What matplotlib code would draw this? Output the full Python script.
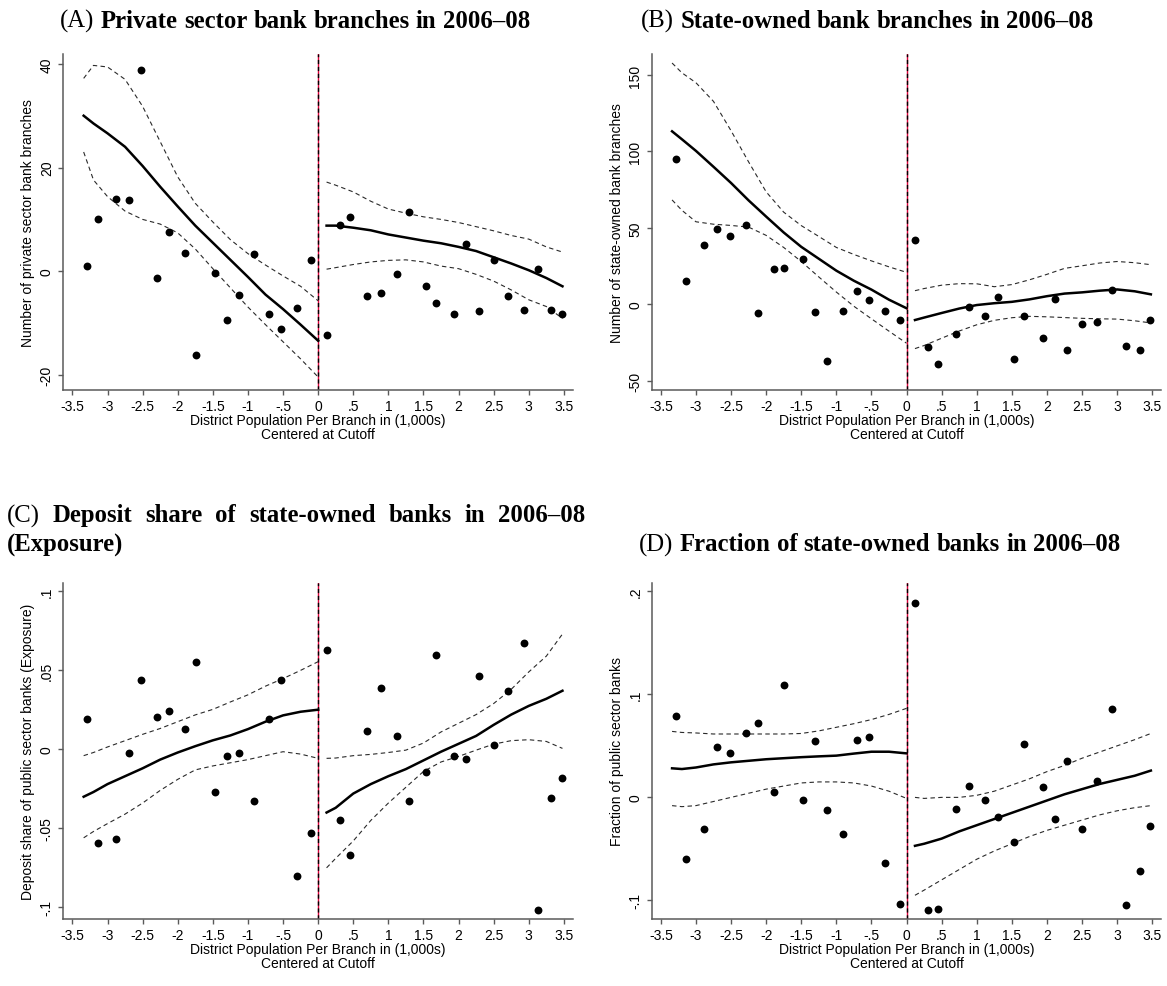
import matplotlib
matplotlib.use("Agg")
import matplotlib.pyplot as plt

W, H, DPI = 1167, 987, 100

# bin centres of the scatter points (left / right of cutoff)
x_left = [-3.29, -3.14, -2.88, -2.70, -2.52, -2.29, -2.12, -1.89, -1.74,
          -1.47, -1.30, -1.13, -0.91, -0.70, -0.53, -0.30, -0.10]
x_right = [0.12, 0.31, 0.45, 0.70, 0.89, 1.12, 1.30, 1.53, 1.68, 1.94,
           2.11, 2.29, 2.50, 2.71, 2.93, 3.13, 3.32, 3.47]

# grids on which the local fits are drawn
grid_left = [-3.34, -3.2, -3.0, -2.75, -2.5, -2.25, -2.0, -1.75, -1.5,
             -1.25, -1.0, -0.75, -0.5, -0.25, 0.0]
grid_right = [0.12, 0.25, 0.5, 0.75, 1.0, 1.25, 1.5, 1.75, 2.0, 2.25,
              2.5, 2.75, 3.0, 3.25, 3.48]

# (A) private sector bank branches
a_pts_l = [1.0, 10.1, 13.9, 13.7, 38.8, -1.35, 7.6, 3.6, -16.1, -0.26,
           -9.4, -4.5, 3.3, -8.3, -11.1, -7.1, 2.2]
a_pts_r = [-12.3, 8.9, 10.4, -4.8, -4.2, -0.6, 11.4, -2.9, -6.1, -8.3,
           5.2, -7.7, 2.2, -4.7, -7.4, 0.4, -7.4, -8.2]
a_fit_l = [30.0, 28.5, 26.6, 24.0, 20.3, 16.3, 12.5, 8.8, 5.5, 2.2, -1.1,
           -4.5, -7.3, -10.3, -13.4]
a_hi_l = [37.2, 39.7, 39.4, 37.0, 31.8, 25.0, 18.2, 13.1, 9.5, 6.1, 3.4,
          1.2, -0.9, -2.9, -5.7]
a_lo_l = [23.0, 17.6, 14.4, 11.6, 10.0, 9.1, 7.4, 4.3, 0.5, -3.2, -6.9,
          -10.3, -13.6, -16.9, -20.4]
a_fit_r = [8.8, 8.8, 8.4, 7.9, 7.1, 6.5, 5.9, 5.4, 4.7, 3.9, 2.7, 1.5,
           0.2, -1.3, -2.9]
a_hi_r = [17.2, 16.6, 15.3, 13.5, 12.0, 11.2, 10.5, 10.0, 9.4, 8.6, 7.8,
          6.9, 6.2, 4.7, 3.7]
a_lo_r = [0.4, 0.7, 1.3, 1.8, 2.1, 2.2, 1.8, 1.0, 0.5, -0.6, -1.9, -3.6,
          -5.5, -6.8, -9.1]

# (B) state-owned bank branches
b_pts_l = [94.9, 15.0, 38.6, 49.3, 44.5, 51.9, -5.9, 23.1, 23.5, 29.6,
           -5.3, -37.1, -4.6, 8.5, 3.0, -4.2, -10.3]
b_pts_r = [41.9, -28.0, -39.0, -19.6, -1.8, -7.4, 5.0, -36.0, -7.4, -22.0,
           3.7, -30.0, -12.9, -11.4, 9.6, -27.0, -30.0, -10.3]
b_fit_l = [113.2, 108.0, 100.4, 90.0, 79.4, 68.0, 57.4, 47.0, 37.6, 29.8,
           22.0, 15.4, 9.6, 3.0, -2.6]
b_hi_l = [157.9, 151.5, 145.0, 132.8, 113.6, 93.2, 73.6, 60.3, 51.5, 44.4,
          37.2, 32.6, 28.4, 24.5, 20.9]
b_lo_l = [68.3, 61.5, 54.0, 52.4, 51.6, 50.5, 45.1, 37.2, 28.0, 17.9, 8.0,
          -1.3, -9.5, -17.6, -25.5]
b_fit_r = [-10.3, -8.7, -5.7, -2.8, -0.5, 0.7, 1.6, 3.2, 5.3, 7.0, 7.8,
           8.9, 9.7, 8.5, 6.5]
b_hi_r = [8.9, 10.3, 12.5, 13.5, 13.4, 11.5, 12.9, 16.0, 19.6, 23.5, 25.2,
          27.0, 28.0, 27.2, 25.9]
b_lo_r = [-29.0, -27.0, -22.2, -17.5, -13.4, -10.5, -8.8, -7.9, -8.2,
          -8.7, -9.2, -9.5, -9.7, -10.8, -12.2]

# (C) deposit share of state-owned banks
c_pts_l = [0.019, -0.059, -0.057, -0.0023, 0.0437, 0.0204, 0.0242, 0.0126,
           0.0551, -0.027, -0.0044, -0.0023, -0.033, 0.019, 0.0438, -0.080,
           -0.053]
c_pts_r = [0.063, -0.045, -0.067, 0.0114, 0.039, 0.0086, -0.033, -0.0146,
           0.0599, -0.004, -0.0063, 0.0466, 0.0029, 0.0367, 0.0673, -0.102,
           -0.031, -0.0182]
c_fit_l = [-0.030, -0.027, -0.022, -0.017, -0.012, -0.0065, -0.002, 0.002,
           0.0057, 0.0088, 0.0128, 0.0175, 0.0215, 0.0238, 0.0251]
c_hi_l = [-0.004, -0.002, 0.0015, 0.0055, 0.0095, 0.0132, 0.0175, 0.0218,
          0.0253, 0.0300, 0.0345, 0.0400, 0.0448, 0.0500, 0.0555]
c_lo_l = [-0.056, -0.052, -0.047, -0.041, -0.034, -0.026, -0.019, -0.013,
          -0.0105, -0.0085, -0.0065, -0.004, -0.0015, -0.003, -0.0057]
c_fit_r = [-0.040, -0.037, -0.028, -0.022, -0.017, -0.0125, -0.007,
           -0.0015, 0.0035, 0.0085, 0.0155, 0.022, 0.0275, 0.032, 0.0371]
c_hi_r = [-0.0057, -0.0055, -0.004, -0.0032, -0.002, -0.0005, 0.004, 0.011,
          0.0165, 0.022, 0.029, 0.038, 0.049, 0.059, 0.073]
c_lo_r = [-0.075, -0.069, -0.058, -0.045, -0.034, -0.024, -0.014, -0.008,
          -0.0045, -0.0005, 0.0033, 0.0055, 0.0061, 0.0050, 0.0006]

# (D) fraction of state-owned banks
d_pts_l = [0.0792, -0.060, -0.031, 0.0491, 0.0433, 0.0624, 0.0721, 0.005,
           0.1087, -0.003, 0.0544, -0.012, -0.036, 0.0556, 0.0588, -0.064,
           -0.103]
d_pts_r = [0.189, -0.109, -0.108, -0.011, 0.011, -0.003, -0.019, -0.043,
           0.0514, 0.010, -0.021, 0.0356, -0.031, 0.016, 0.086, -0.104,
           -0.071, -0.028]
d_fit_l = [0.0282, 0.0275, 0.029, 0.032, 0.034, 0.0355, 0.037, 0.038,
           0.039, 0.0398, 0.0405, 0.0425, 0.0443, 0.0443, 0.0427]
d_hi_l = [0.064, 0.063, 0.0625, 0.0615, 0.0615, 0.0615, 0.0615, 0.0615,
          0.062, 0.0645, 0.068, 0.0715, 0.0755, 0.0805, 0.0864]
d_lo_l = [-0.008, -0.009, -0.008, -0.004, 0.000, 0.004, 0.008, 0.011,
          0.014, 0.015, 0.015, 0.014, 0.011, 0.006, -0.001]
d_fit_r = [-0.047, -0.045, -0.040, -0.033, -0.027, -0.021, -0.015, -0.009,
           -0.003, 0.003, 0.008, 0.013, 0.017, 0.021, 0.026]
d_hi_r = [0.000, -0.001, 0.000, 0.000, 0.002, 0.006, 0.012, 0.018, 0.025,
          0.031, 0.038, 0.044, 0.050, 0.056, 0.062]
d_lo_r = [-0.095, -0.090, -0.080, -0.070, -0.060, -0.052, -0.045, -0.038,
          -0.032, -0.027, -0.022, -0.017, -0.013, -0.010, -0.008]

x_ticks = [-3.5, -3, -2.5, -2, -1.5, -1, -0.5, 0, 0.5, 1, 1.5, 2, 2.5, 3, 3.5]
x_ticklabels = ["-3.5", "-3", "-2.5", "-2", "-1.5", "-1", "-.5", "0", ".5",
                "1", "1.5", "2", "2.5", "3", "3.5"]
x_label = "District Population Per Branch in (1,000s)\nCentered at Cutoff"

panels = [
    dict(pos=(63.3, 55), ylim=(-22.9, 41.9), yticks=[-20, 0, 20, 40],
         yticklabels=["-20", "0", "20", "40"],
         ylabel="Number of private sector bank branches",
         data=(a_pts_l, a_pts_r, a_fit_l, a_hi_l, a_lo_l, a_fit_r, a_hi_r, a_lo_r)),
    dict(pos=(651.7, 55), ylim=(-56.1, 163.8), yticks=[-50, 0, 50, 100, 150],
         yticklabels=["-50", "0", "50", "100", "150"],
         ylabel="Number of state-owned bank branches",
         data=(b_pts_l, b_pts_r, b_fit_l, b_hi_l, b_lo_l, b_fit_r, b_hi_r, b_lo_r)),
    dict(pos=(63.3, 584), ylim=(-0.1074, 0.1053),
         yticks=[-0.1, -0.05, 0, 0.05, 0.1],
         yticklabels=["-.1", "-.05", "0", ".05", ".1"],
         ylabel="Deposit share of public sector banks (Exposure)",
         data=(c_pts_l, c_pts_r, c_fit_l, c_hi_l, c_lo_l, c_fit_r, c_hi_r, c_lo_r)),
    dict(pos=(651.7, 584), ylim=(-0.118, 0.208), yticks=[-0.1, 0, 0.1, 0.2],
         yticklabels=["-.1", "0", ".1", ".2"],
         ylabel="Fraction of public sector banks",
         data=(d_pts_l, d_pts_r, d_fit_l, d_hi_l, d_lo_l, d_fit_r, d_hi_r, d_lo_r)),
]

plt.rcParams["font.family"] = ["Liberation Sans", "DejaVu Sans"]

fig = plt.figure(figsize=(W / DPI, H / DPI), dpi=DPI)
AX_W, AX_H = 509.7, 336
AXIS_GREY = "#5a5a5a"

for p in panels:
    left, top = p["pos"]
    ax = fig.add_axes([left / W, 1 - (top + AX_H) / H, AX_W / W, AX_H / H])
    pl, pr, fl, hl, ll, fr, hr, lr = p["data"]

    ax.axvline(0, color="#e0003c", lw=1.0, zorder=1)
    ax.axvline(0, color="black", lw=1.0, ls=(0, (3, 2)), zorder=1.5)

    for g, hi, lo in ((grid_left, hl, ll), (grid_right, hr, lr)):
        ax.plot(g, hi, color="#2a2a2a", lw=0.8, ls=(0, (4, 3)), zorder=2)
        ax.plot(g, lo, color="#2a2a2a", lw=0.8, ls=(0, (4, 3)), zorder=2)
    ax.plot(grid_left, fl, color="black", lw=1.8, zorder=3)
    ax.plot(grid_right, fr, color="black", lw=1.8, zorder=3)

    ax.scatter(x_left, pl, s=32, color="black", zorder=4, linewidths=0)
    ax.scatter(x_right, pr, s=32, color="black", zorder=4, linewidths=0)

    ax.set_xlim(-3.63, 3.63)
    ax.set_ylim(*p["ylim"])
    ax.set_xticks(x_ticks)
    ax.set_xticklabels(x_ticklabels)
    ax.set_yticks(p["yticks"])
    ax.set_yticklabels(p["yticklabels"], rotation=90, va="center")

    for s in ("top", "right"):
        ax.spines[s].set_visible(False)
    for s in ("left", "bottom"):
        ax.spines[s].set_color(AXIS_GREY)
        ax.spines[s].set_linewidth(1.1)
    ax.tick_params(direction="out", length=3.8, width=1.0, color=AXIS_GREY,
                   labelsize=10, pad=3)

    ax.set_xlabel(x_label, fontsize=10, linespacing=1.05, va="top")
    ax.xaxis.set_label_coords(0.5, -0.068)
    ax.set_ylabel(p["ylabel"], fontsize=10, va="center")
    ax.yaxis.set_label_coords(-0.069, 0.5)

# ---- panel captions: regular letter, bold serif text -------------------
renderer = fig.canvas.get_renderer()
SERIF = ["Liberation Serif", "DejaVu Serif"]
TSIZE = 17.8


def px(x, y):
    return x / W, 1 - y / H


def text_width(s, weight):
    t = fig.text(0, 0, s, fontsize=TSIZE, family=SERIF, fontweight=weight)
    w = t.get_window_extent(renderer).width
    t.remove()
    return w


def caption(x, y, letter, words, width=None):
    pieces = [(letter, "normal")] + [(w, "bold") for w in words]
    widths = [text_width(s, wt) for s, wt in pieces]
    if width is None:
        gap = text_width("a a", "bold") - 2 * text_width("a", "bold")
    else:
        gap = (width - sum(widths)) / (len(pieces) - 1)
    cur = x
    for (s, wt), w in zip(pieces, widths):
        fig.text(*px(cur, y), s, fontsize=TSIZE, family=SERIF, fontweight=wt,
                 ha="left", va="center")
        cur += w + gap


caption(60, 21, "(A)", "Private sector bank branches in 2006–08".split())
caption(641, 21, "(B)", "State-owned bank branches in 2006–08".split())
caption(7, 516, "(C)", "Deposit share of state-owned banks in 2006–08".split(),
        width=578)
fig.text(*px(7, 545), "(Exposure)", fontsize=TSIZE, family=SERIF,
         fontweight="bold", ha="left", va="center")
caption(639, 545, "(D)", "Fraction of state-owned banks in 2006–08".split())

fig.savefig("out.png", dpi=DPI)
